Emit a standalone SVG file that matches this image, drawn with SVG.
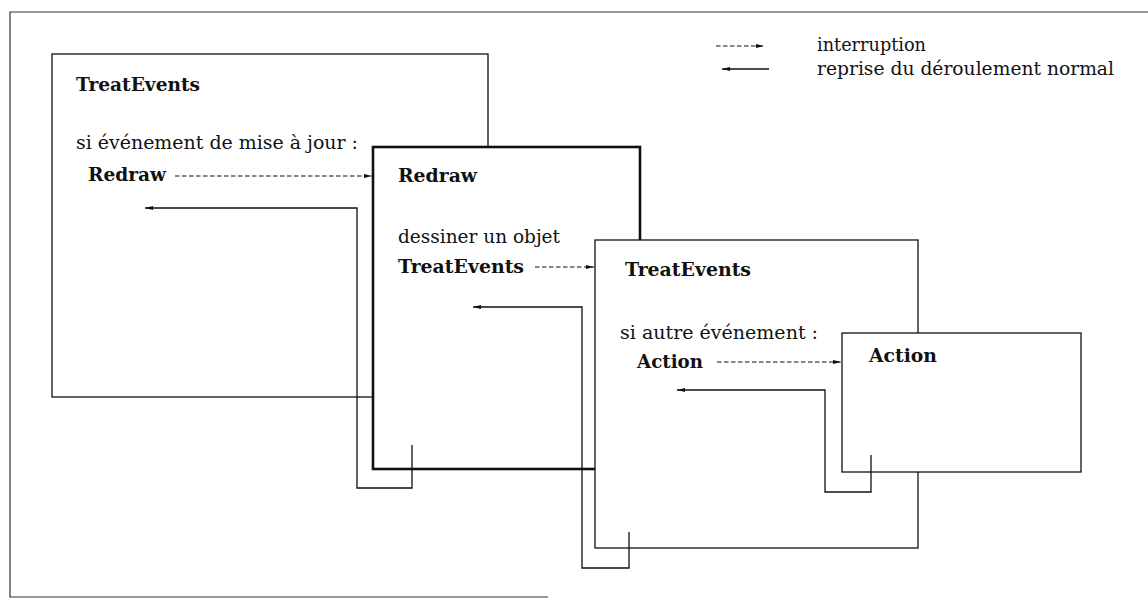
<svg xmlns="http://www.w3.org/2000/svg" width="1148" height="598" viewBox="0 0 1148 598">
<style>
.box{fill:#fff;stroke:#111;stroke-width:1.3}
.thick{stroke-width:2.6}
.t{font-family:"DejaVu Serif","Liberation Serif",serif;font-size:18px;fill:#111}
.b{font-weight:bold}
.dash{fill:none;stroke:#111;stroke-width:1.2;stroke-dasharray:4.5 2.5}
.sol{fill:none;stroke:#111;stroke-width:1.3}
</style>
<defs>
<marker id="ah" viewBox="0 0 8 6" refX="8" refY="3" markerWidth="8" markerHeight="6" markerUnits="userSpaceOnUse" orient="auto">
<path d="M0,1 L8,3 L0,5 Z" fill="#111"/>
</marker>
</defs>
<g id="frame">
<path d="M1148,12 H10 V597 H548" fill="none" stroke="#333" stroke-width="1.2"/>
</g>
<g id="legend">
<line class="dash" x1="716" y1="46" x2="764" y2="46" marker-end="url(#ah)"/>
<line class="sol" x1="769" y1="69" x2="722" y2="69" marker-end="url(#ah)"/>
<text class="t" x="817" y="51" textLength="109" lengthAdjust="spacingAndGlyphs">interruption</text>
<text class="t" x="817" y="75" textLength="297" lengthAdjust="spacingAndGlyphs">reprise du déroulement normal</text>
</g>
<g id="treatevents1">
<rect class="box" x="52" y="54" width="436" height="343"/>
<text class="t b" x="76" y="91" textLength="124" lengthAdjust="spacingAndGlyphs">TreatEvents</text>
<text class="t" x="76" y="149" textLength="282" lengthAdjust="spacingAndGlyphs">si événement de mise à jour :</text>
<text class="t b" x="88" y="181" textLength="78" lengthAdjust="spacingAndGlyphs">Redraw</text>
</g>
<g id="redraw">
<rect class="box thick" x="373" y="147" width="267" height="322"/>
<text class="t b" x="398" y="182" textLength="79" lengthAdjust="spacingAndGlyphs">Redraw</text>
<text class="t" x="398" y="243" textLength="162" lengthAdjust="spacingAndGlyphs">dessiner un objet</text>
<text class="t b" x="398" y="273" textLength="126" lengthAdjust="spacingAndGlyphs">TreatEvents</text>
</g>
<g id="treatevents2">
<rect class="box" x="595" y="240" width="323" height="308"/>
<text class="t b" x="625" y="276" textLength="126" lengthAdjust="spacingAndGlyphs">TreatEvents</text>
<text class="t" x="620" y="339" textLength="198" lengthAdjust="spacingAndGlyphs">si autre événement :</text>
<text class="t b" x="637" y="368" textLength="66" lengthAdjust="spacingAndGlyphs">Action</text>
</g>
<g id="action">
<rect class="box" x="842" y="333" width="239" height="139"/>
<text class="t b" x="869" y="362" textLength="68" lengthAdjust="spacingAndGlyphs">Action</text>
</g>
<g id="connectors">
<line class="dash" x1="175" y1="176" x2="372" y2="176" marker-end="url(#ah)"/>
<path class="sol" d="M412,445 V488 H357 V208 H145" marker-end="url(#ah)"/>
<line class="dash" x1="535" y1="267" x2="594" y2="267" marker-end="url(#ah)"/>
<path class="sol" d="M629,532 V568 H582 V307 H473" marker-end="url(#ah)"/>
<line class="dash" x1="717" y1="362" x2="841" y2="362" marker-end="url(#ah)"/>
<path class="sol" d="M871,455 V492 H825 V390 H677" marker-end="url(#ah)"/>
</g>
</svg>
